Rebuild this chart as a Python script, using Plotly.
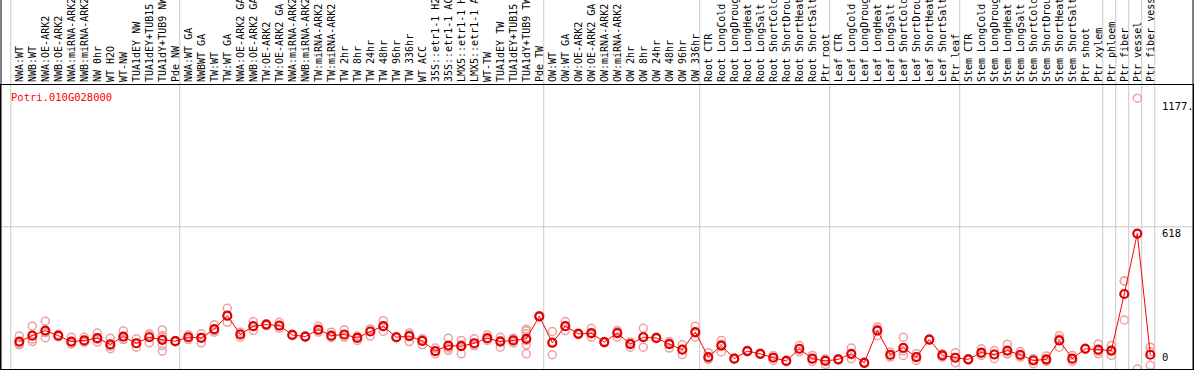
import plotly.graph_objects as go

gene_id = "Potri.010G028000"

categories = [
    "NWA:WT", "NWB:WT", "NWA:OE-ARK2", "NWB:OE-ARK2", "NWA:miRNA-ARK2", "NWB:miRNA-ARK2",
    "NW 0hr", "WT H2O", "WT-NW", "TUA1dEY NW", "TUA1dEY+TUB15 NW", "TUA1dY+TUB9 NW", "Pde NW",
    "NWA:WT GA", "NWBWT GA", "TW:WT", "TW:WT GA", "NWA:OE-ARK2 GA", "NWB:OE-ARK2 GA",
    "TW:OE-ARK2", "TW:OE-ARK2 GA", "NWA:miRNA-ARK2 GA", "NWB:miRNA-ARK2 GA", "TW:miRNA-ARK2",
    "TW:miRNA-ARK2 GA", "TW 2hr", "TW 8hr", "TW 24hr", "TW 48hr", "TW 96hr", "TW 336hr",
    "WT ACC", "35S::etr1-1 H2O", "35S::etr1-1 ACC", "LMX5::etr1-1 H2O", "LMX5::etr1-1 ACC",
    "WT-TW", "TUA1dEY TW", "TUA1dEY+TUB15 TW", "TUA1dY+TUB9 TW", "Pde TW",
    "OW:WT", "OW:WT GA", "OW:OE-ARK2", "OW:OE-ARK2 GA", "OW:miRNA-ARK2", "OW:miRNA-ARK2 GA",
    "OW 2hr", "OW 8hr", "OW 24hr", "OW 48hr", "OW 96hr", "OW 336hr",
    "Root CTR", "Root LongCold", "Root LongDrought", "Root LongHeat", "Root LongSalt",
    "Root ShortCold", "Root ShortDrought", "Root ShortHeat", "Root ShortSalt", "Ptr root",
    "Leaf CTR", "Leaf LongCold", "Leaf LongDrought", "Leaf LongHeat", "Leaf LongSalt",
    "Leaf ShortCold", "Leaf ShortDrought", "Leaf ShortHeat", "Leaf ShortSalt", "Ptr leaf",
    "Stem CTR", "Stem LongCold", "Stem LongDrought", "Stem LongHeat", "Stem LongSalt",
    "Stem ShortCold", "Stem ShortDrought", "Stem ShortHeat", "Stem ShortSalt", "Ptr shoot",
    "Ptr xylem", "Ptr phloem", "Ptr fiber", "Ptr vessel", "Ptr fiber vessel",
]

mean_values = [
    119, 145, 167, 145, 119, 124, 134, 107, 141, 112, 138, 127, 121, 138, 135, 173, 232, 150, 186, 193, 189, 148,
    141, 171, 145, 150, 135, 163, 186, 138, 143, 122, 78, 102, 99, 112, 134, 119, 124, 131, 229, 114, 186, 153, 156,
    117, 156, 108, 138, 135, 108, 84, 160, 52, 102, 45, 78, 66, 49, 35, 88, 45, 35, 42, 66, 27, 167, 62,
    92, 52, 128, 59, 49, 42, 71, 63, 80, 62, 37, 42, 124, 45, 88, 84, 80, 326, 588.5, 62,
]

replicates = [
    [143, 105, 109], [186, 119, 130], [208, 135, 158], [150, 140, 145], [138, 109, 110],
    [138, 117, 117], [156, 117, 129], [134, 88, 99], [166, 128, 129], [131, 95, 110],
    [153, 114, 147], [170, 145, 140, 127, 102, 78], [124, 118, 121],
    [148, 128, 138], [153, 114, 138], [192, 160, 167], [264, 203, 229], [160, 138, 152],
    [206, 167, 185], [197, 189, 193], [203, 177, 187], [151, 145, 148], [144, 138, 141],
    [186, 160, 167], [160, 138, 137], [171, 138, 141], [143, 124, 138], [173, 143, 173],
    [210, 163, 185], [141, 135, 138], [153, 119, 157], [131, 105, 130], [91, 66, 77],
    [134, 91, 81], [124, 66, 107], [131, 102, 103], [148, 124, 130], [138, 95, 124],
    [134, 124, 114], [173, 165, 153, 124, 105, 66], [232, 226, 229],
    [163, 62, 117], [206, 167, 185], [156, 150, 153], [177, 138, 153], [120, 114, 117],
    [167, 138, 163], [117, 95, 112], [177, 95, 142], [138, 132, 135], [119, 91, 114],
    [105, 62, 85], [186, 138, 156],
    [71, 42, 43], [124, 74, 108], [48, 42, 45], [81, 75, 78], [69, 63, 66], [59, 37, 51],
    [38, 32, 35], [102, 76, 86], [59, 33, 43], [42, 20, 43],
    [45, 39, 42], [91, 45, 62], [30, 24, 27], [173, 145, 183], [74, 52, 60], [138, 59, 79],
    [66, 37, 53], [131, 125, 128], [66, 52, 59], [71, 27, 49],
    [45, 39, 42], [88, 59, 66], [80, 45, 64], [108, 66, 66], [76, 52, 58], [45, 23, 43],
    [56, 33, 37], [145, 95, 132], [59, 33, 43], [91, 85, 88], [109, 66, 77],
    [102, 59, 79], [383, 383, 213], [1177, 0], [95, 16, 75],
]

# category index where each group starts (separator drawn before it)
group_starts = [0, 13, 41, 53, 63, 73, 84, 85, 86, 87, 88]

y_tick_values = [1177, 618, 0]
y_tick_labels = ["1177.", "618", "0"]
grid_value = 618

x_idx = list(range(len(categories)))
rep_x, rep_y = [], []
for i, reps in enumerate(replicates):
    for r in reps:
        rep_x.append(i)
        rep_y.append(r)

mono = "DejaVu Sans Mono"

fig = go.Figure()
fig.add_trace(go.Scatter(
    x=rep_x, y=rep_y, mode="markers",
    marker=dict(symbol="circle-open", size=8, color="#f0a0a0", line=dict(width=1.5, color="#f0a0a0")),
    hoverinfo="skip", showlegend=False,
))
fig.add_trace(go.Scatter(
    x=x_idx, y=mean_values, mode="lines+markers",
    line=dict(color="#ff0000", width=1),
    marker=dict(symbol="circle-open", size=8, color="#e00000", line=dict(width=2.2, color="#e00000")),
    showlegend=False,
))

shapes = []
for k in group_starts:
    shapes.append(dict(type="line", xref="x", yref="paper", x0=k - 0.66, x1=k - 0.66, y0=0, y1=1.35,
                       line=dict(color="#c8c8c8", width=1), layer="below"))
shapes.append(dict(type="line", xref="paper", yref="y", x0=0, x1=1, y0=grid_value, y1=grid_value,
                   line=dict(color="#c8c8c8", width=1), layer="below"))
# frame side lines extend through the label area
shapes.append(dict(type="line", xref="paper", yref="paper", x0=0, x1=0, y0=0, y1=1.35,
                   line=dict(color="black", width=1)))
shapes.append(dict(type="line", xref="paper", yref="paper", x0=1, x1=1, y0=0, y1=1.35,
                   line=dict(color="black", width=1)))

label_shift = {1177: 0, 618: 1.5, 0: 4}
annotations = [dict(text=gene_id, xref="paper", yref="paper", x=0.0065, y=0.959,
                    xanchor="left", yanchor="middle", showarrow=False,
                    font=dict(family=mono, size=10.5, color="#ff0000"))]
for v, t in zip(y_tick_values, y_tick_labels):
    annotations.append(dict(text=t, xref="paper", yref="y", x=0.9722, y=v,
                            xanchor="left", yanchor="bottom" if v == 0 else "top",
                            yshift=label_shift[v], showarrow=False,
                            font=dict(family=mono, size=10.5, color="black")))

fig.update_layout(
    width=1194, height=370,
    margin=dict(l=1, r=1, t=85, b=1, autoexpand=False),
    paper_bgcolor="white", plot_bgcolor="white",
    shapes=shapes, annotations=annotations,
    xaxis=dict(
        side="top", range=[(1 - 19.3) / 13, (1193 - 19.3) / 13],
        tickmode="array", tickvals=x_idx, ticktext=categories, tickangle=-90,
        tickfont=dict(family=mono, size=10, color="black"),
        ticks="", showgrid=False, zeroline=False, automargin=False,
        showline=True, mirror=True, linecolor="black", linewidth=1,
    ),
    yaxis=dict(
        range=[0, 1234.5], showticklabels=False, showgrid=False, zeroline=False,
        automargin=False, showline=True, mirror=True, linecolor="black", linewidth=1,
    ),
)

fig.write_html("out.html", config={"displayModeBar": False},
               post_script="document.body.style.margin='0';document.body.style.overflow='hidden';")
